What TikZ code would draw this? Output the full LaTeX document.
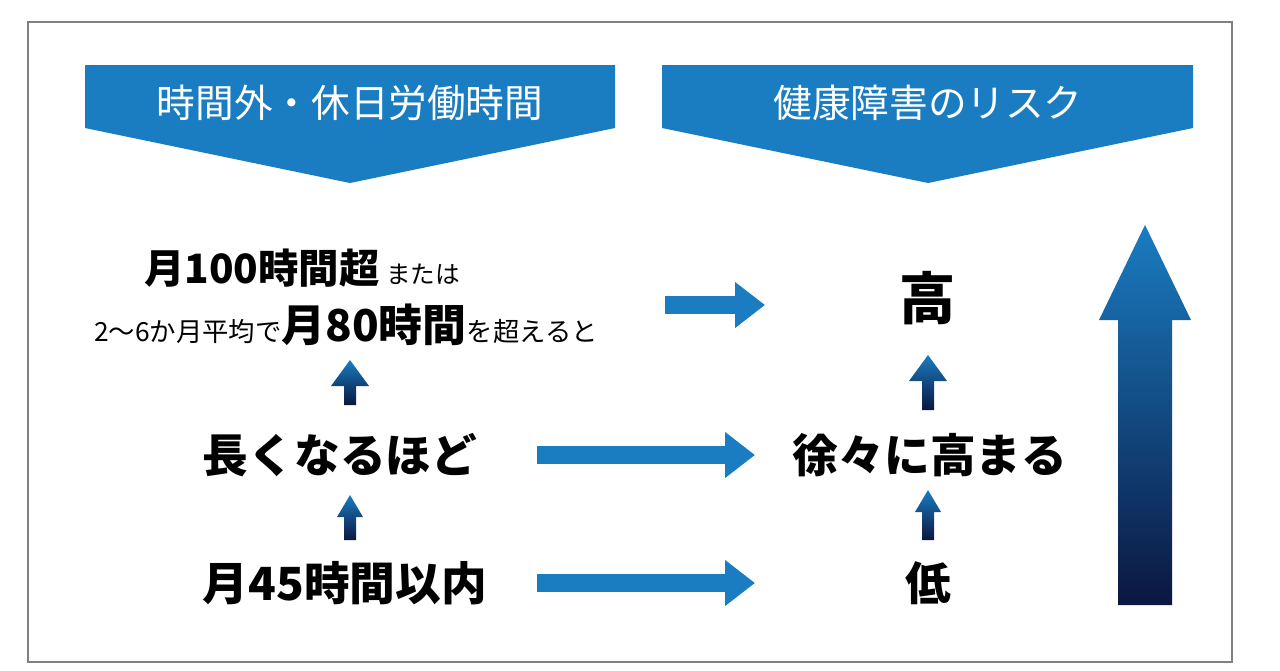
\documentclass[tikz,border=0pt]{standalone}
\usepackage{fontspec}
\newfontfamily\jp{Noto Sans CJK JP}
\usetikzlibrary{arrows.meta,positioning}
\definecolor{riskblue}{HTML}{1A7CC1}
\definecolor{risknavy}{HTML}{0B1740}
\tikzset{
  banner/.style={fill=riskblue, draw=none},
  big/.style={font=\jp\bfseries\fontsize{23}{26}\selectfont, inner sep=0pt},
  bigger/.style={font=\jp\bfseries\fontsize{26}{29}\selectfont, inner sep=0pt},
  hdr/.style={font=\jp\fontsize{22}{24}\selectfont, text=white},
  harrow/.style={draw=riskblue, line width=10pt, -{Triangle[length=17pt,width=25pt]}, shorten >=0pt},
}
% gradient up arrow: x, y bottom, y top, half shaft, half head, head length
\newcommand\gradarrow[6]{%
  \shade[top color=riskblue, bottom color=risknavy]
    (#1-#4,#2) -- (#1-#4,#3+#6) -- (#1-#5,#3+#6) -- (#1,#3)
    -- (#1+#5,#3+#6) -- (#1+#4,#3+#6) -- (#1+#4,#2) -- cycle;}
\begin{document}
\begin{tikzpicture}[x=0.02cm, y=-0.02cm]
\useasboundingbox (0,0) rectangle (1280,670);
\draw[gray, line width=1pt] (28,22) rectangle (1232,662);

% banners
\fill[banner] (85,65) -- (615,65) -- (615,128) -- (350,183) -- (85,128) -- cycle;
\fill[banner] (662,65) -- (1193,65) -- (1193,128) -- (928,183) -- (662,128) -- cycle;
\node[hdr] (h1) at (350,103) {時間外・休日労働時間};
\node[hdr] (h2) at (928,103) {健康障害のリスク};

% left column
\node[big] (t1) at (302,268) {月100時間超\,{\fontsize{14}{16}\selectfont\mdseries または}};
\node[big] (t2) at (346,325) {{\fontsize{15}{17}\selectfont\mdseries 2〜6か月平均で}{\fontsize{25}{28}\selectfont 月80時間}{\fontsize{15}{17}\selectfont\mdseries を超えると}};
\node[bigger] (t3) at (340,455) {長くなるほど};
\node[bigger] (t4) at (345,583) {月45時間以内};

% right column
\node[big, font=\jp\bfseries\fontsize{32}{35}\selectfont] (r1) at (928,298) {高};
\node[bigger] (r2) at (930,455) {徐々に高まる};
\node[bigger] (r3) at (928,583) {低};

% horizontal arrows
\coordinate (a1) at (665,305);
\coordinate (b1) at (765,305);
\draw[harrow] (a1) -- (b1);
\draw[harrow] (t3.east -| 537,0) -- (r2.west -| 755,0);
\draw[harrow] (t4.east -| 537,0) -- (r3.west -| 755,0);

% vertical arrows
\gradarrow{350}{405}{360}{6}{19}{26}
\gradarrow{350}{540}{495}{6}{13}{22}
\gradarrow{928}{410}{355}{6}{19}{26}
\gradarrow{928}{540}{490}{6}{13}{22}
\gradarrow{1145}{605}{225}{27}{46}{95}
\end{tikzpicture}
\end{document}
